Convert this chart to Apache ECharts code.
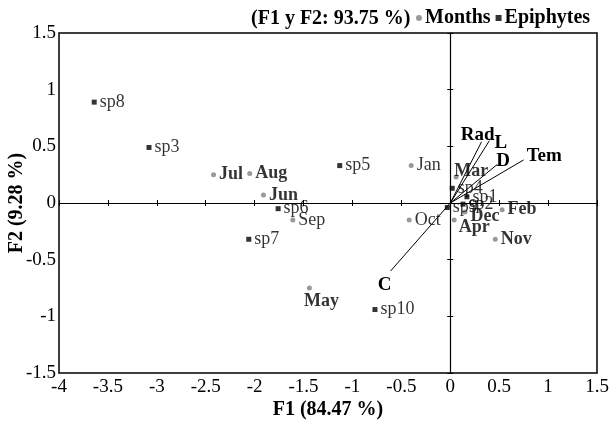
<!DOCTYPE html>
<html><head><meta charset="utf-8">
<script src="https://cdn.jsdelivr.net/npm/echarts@6/dist/echarts.min.js"></script>
<style>html,body{margin:0;padding:0;background:#fff}#c{width:615px;height:425px}</style>
</head><body><div id="c"></div>
<script>
var xTicks = [-4,-3.5,-3,-2.5,-2,-1.5,-1,-0.5,0,0.5,1,1.5];
var yTicks = [-1.5,-1,-0.5,0,0.5,1,1.5];

var monthNames = ['Jan','Feb','Mar','Apr','May','Jun','Jul','Aug','Sep','Oct','Nov','Dec'];
var monthX = [-0.40, 0.53, 0.06, 0.04, -1.44, -1.91, -2.42, -2.05, -1.61, -0.42, 0.46, 0.15];
var monthY = [0.33, -0.06, 0.23, -0.15, -0.75, 0.07, 0.25, 0.26, -0.15, -0.15, -0.32, -0.08];
var monthBold = [false,true,true,true,true,true,true,true,false,false,true,true];

var spNames = ['sp1','sp2','sp3','sp4','sp5','sp6','sp7','sp8','sp9','sp10'];
var spX = [0.17, 0.13, -3.08, 0.02, -1.13, -1.76, -2.06, -3.64, -0.03, -0.77];
var spY = [0.055, -0.01, 0.49, 0.13, 0.33, -0.05, -0.32, 0.89, -0.04, -0.94];

var varNames = ['Rad','L','D','Tem','C'];
var varX = [0.32, 0.40, 0.48, 0.75, -0.61];
var varY = [0.54, 0.55, 0.34, 0.38, -0.60];

var FONT = 'Liberation Serif';

var monthLabelPos = {
  May: {position:'bottom', offset:[12,-3]},
  Mar: {position:'top', offset:[15,11]},
  Apr: {position:'right', offset:[-3,7]},
  Dec: {position:'right', offset:[-2,4]}
};
var varLabelPos = {
  Rad: {position:'top', offset:[-4,8]},
  L: {position:'right', offset:[0,2]},
  D: {position:'right', offset:[-6,-3]},
  Tem: {position:'right', offset:[-2,-4]},
  C: {position:'bottom', offset:[-6,0]}
};

var monthData = monthNames.map(function(n,i){
  var lp = monthLabelPos[n] || {position:'right', offset:[-2,0]};
  return {name:n, value:[monthX[i], monthY[i]], label:{show:true, formatter:n, position:lp.position, offset:lp.offset,
    fontWeight: monthBold[i]?'bold':'normal', fontSize:18, color:'#000', fontFamily:FONT}};
});
var spData = spNames.map(function(n,i){
  return {name:n, value:[spX[i], spY[i]], label:{show:true, formatter:n, position:'right', offset:[-2,0],
    fontSize:18, color:'#000', fontFamily:FONT}};
});

var varSeries = varNames.map(function(n,i){
  var lp = varLabelPos[n];
  return {type:'line', name:n, xAxisIndex:0, yAxisIndex:0, symbol:'none', silent:true,
    lineStyle:{color:'#000', width:1}, z:3,
    data:[{value:[0,0]}, {value:[varX[i], varY[i]], symbol:'circle', symbolSize:0,
      label:{show:true, formatter:n, position:lp.position, offset:lp.offset, fontWeight:'bold', fontSize:19, color:'#000', fontFamily:FONT}}]};
});

var axisLabelStyle = {fontFamily:FONT, fontSize:19, color:'#000'};

var option = {
  animation:false,
  textStyle:{fontFamily:FONT},
  grid:{left:59, right:18, top:33, bottom:52, containLabel:false, outerBoundsMode:'none',
        show:true, borderColor:'#000', borderWidth:1.5, backgroundColor:'transparent'},
  graphic:[{type:'text', left:251, top:9, style:{text:'(F1 y F2: 93.75 %)', font:'bold 20px "Liberation Serif"', fill:'#000'}}],
  legend:{left:416, top:8, padding:0, itemGap:5, itemWidth:6, itemHeight:6,
    textStyle:{fontFamily:FONT, fontWeight:'bold', fontSize:20, color:'#000', padding:[0,0,0,-2]},
    data:[{name:'Months', icon:'circle'},{name:'Epiphytes', icon:'rect'}]},
  xAxis:[
    {type:'value', min:-4, max:1.5, interval:0.5, position:'bottom',
     axisLine:{show:false, onZero:false}, axisTick:{show:false}, splitLine:{show:false},
     axisLabel:Object.assign({margin:5, formatter:function(v){return String(v);}}, axisLabelStyle),
     name:'F1 (84.47 %)', nameLocation:'middle', nameGap:27, nameMoveOverlap:false,
     nameTextStyle:{fontFamily:FONT, fontWeight:'bold', fontSize:20, color:'#000'}},
    {type:'value', min:-4, max:1.5, interval:0.5, position:'top',
     axisLine:{show:true, onZero:true, lineStyle:{color:'#000', width:1.2}},
     axisTick:{show:true, inside:false, length:3, lineStyle:{color:'#000'}}, axisLabel:{show:false}, splitLine:{show:false}},
    {type:'value', min:-4, max:1.5, interval:0.5, position:'top',
     axisLine:{show:false, onZero:true},
     axisTick:{show:true, inside:true, length:3, lineStyle:{color:'#000'}}, axisLabel:{show:false}, splitLine:{show:false}}
  ],
  yAxis:[
    {type:'value', min:-1.5, max:1.5, interval:0.5, position:'left',
     axisLine:{show:false, onZero:false}, axisTick:{show:false}, splitLine:{show:false},
     axisLabel:Object.assign({margin:3, formatter:function(v){return String(v);}}, axisLabelStyle),
     name:'F2 (9.28 %)', nameLocation:'middle', nameGap:32, nameMoveOverlap:false,
     nameTextStyle:{fontFamily:FONT, fontWeight:'bold', fontSize:20, color:'#000'}},
    {type:'value', min:-1.5, max:1.5, interval:0.5, position:'right',
     axisLine:{show:true, onZero:true, lineStyle:{color:'#000', width:1.2}},
     axisTick:{show:true, inside:false, length:3, lineStyle:{color:'#000'}}, axisLabel:{show:false}, splitLine:{show:false}},
    {type:'value', min:-1.5, max:1.5, interval:0.5, position:'right',
     axisLine:{show:false, onZero:true},
     axisTick:{show:true, inside:true, length:3, lineStyle:{color:'#000'}}, axisLabel:{show:false}, splitLine:{show:false}}
  ],
  series:[
    {type:'scatter', name:'Months', symbol:'circle', symbolSize:5, itemStyle:{color:'#808080'}, data:monthData, z:5},
    {type:'scatter', name:'Epiphytes', symbol:'rect', symbolSize:5, itemStyle:{color:'#000'}, data:spData, z:5}
  ].concat(varSeries)
};
var chart = echarts.init(document.getElementById('c'), null, {renderer:'canvas'});
chart.setOption(option);
</script></body></html>
